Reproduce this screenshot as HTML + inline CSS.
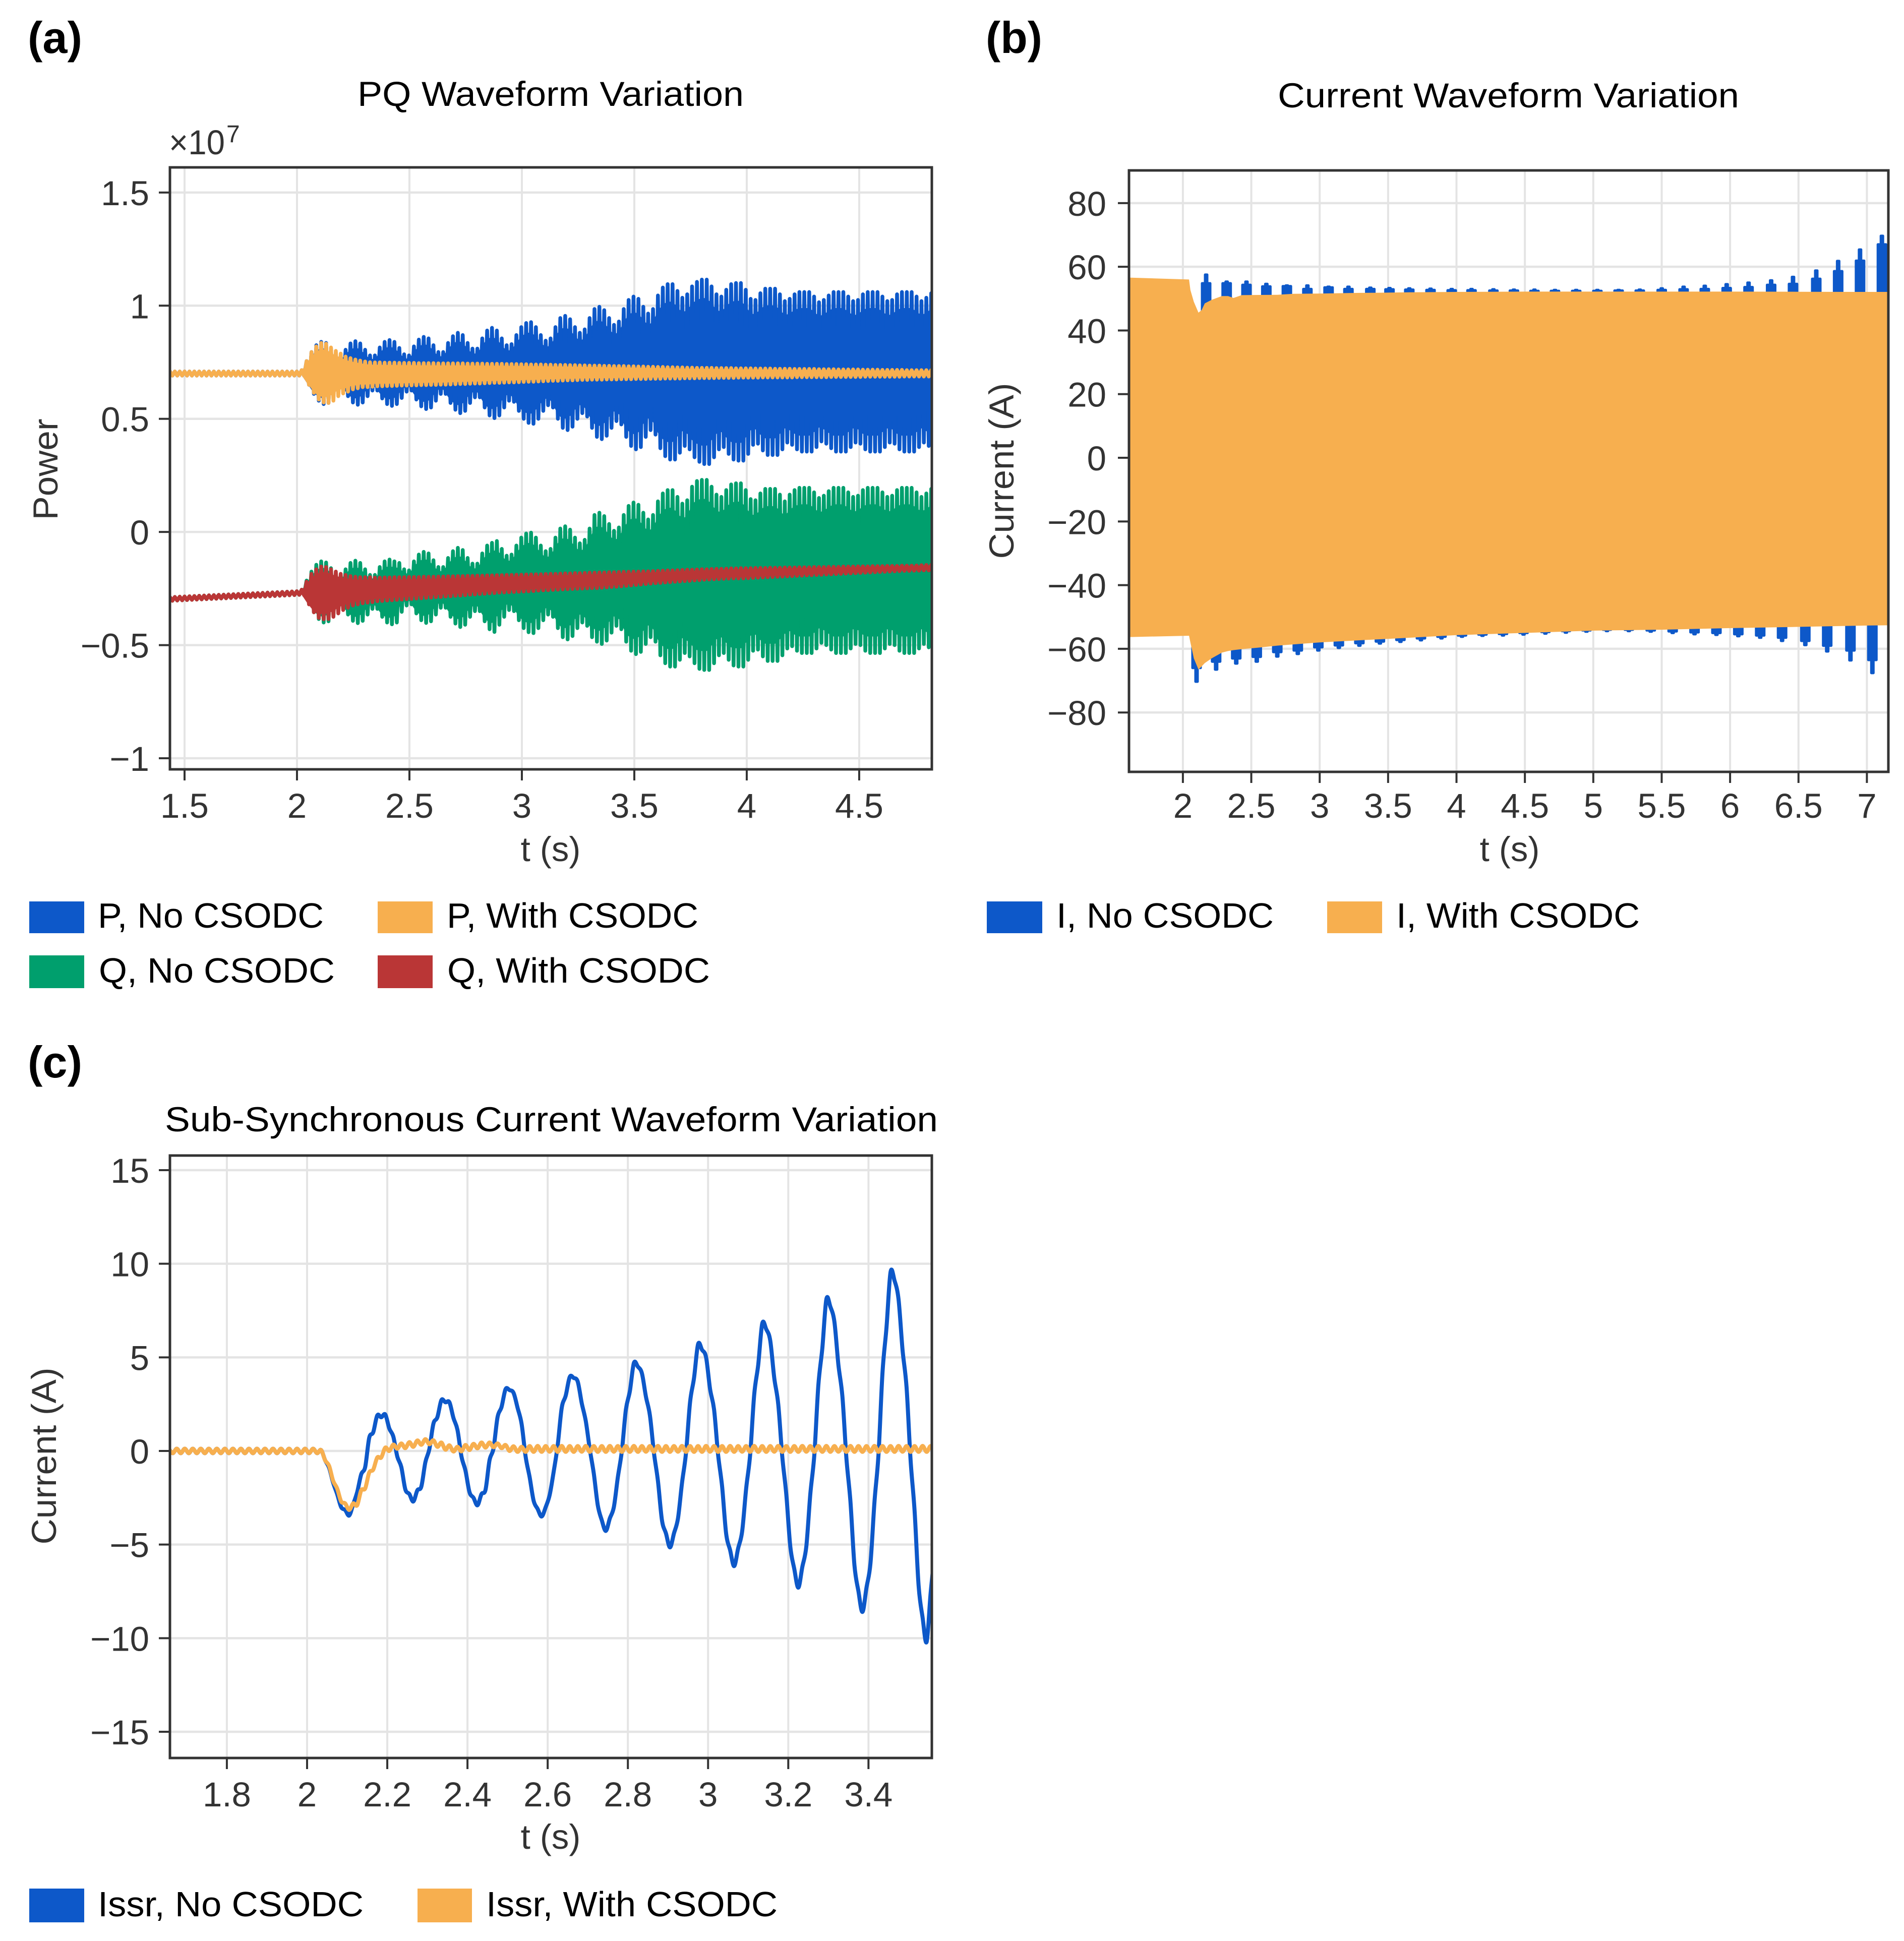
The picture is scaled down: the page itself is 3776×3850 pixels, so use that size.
<!DOCTYPE html>
<html lang="en">
<head>
<meta charset="utf-8">
<title>CSODC waveform comparison</title>
<style>
html,body{margin:0;padding:0;background:#fff;}
svg{display:block;}
text{font-family:"Liberation Sans",sans-serif;}
.tick{font-size:69px;fill:#333;}
.axis-title{font-size:69px;fill:#333;}
.title{font-size:69px;fill:#000;}
.legend{font-size:70px;fill:#000;}
.panel{font-size:88px;font-weight:bold;fill:#000;}
</style>
</head>
<body>
<svg id="fig" xmlns="http://www.w3.org/2000/svg" width="3776" height="3850" viewBox="0 0 3776 3850">
<rect x="0" y="0" width="3776" height="3850" fill="#fff"/>
<defs>
<clipPath id="clipA"><rect x="337" y="332" width="1511" height="1194"/></clipPath>
<clipPath id="clipB"><rect x="2239" y="338" width="1506" height="1193"/></clipPath>
<clipPath id="clipC"><rect x="337" y="2292" width="1511" height="1195"/></clipPath>
</defs>
<g id="gridA"></g>
<g id="gridB"></g>
<g id="gridC"></g>
<g id="plotA" clip-path="url(#clipA)"></g>
<g id="plotB" clip-path="url(#clipB)"></g>
<g id="plotC" clip-path="url(#clipC)"></g>
<g id="axesA"></g>
<g id="axesB"></g>
<g id="axesC"></g>

<text class="panel" x="55" y="105" textLength="108" lengthAdjust="spacingAndGlyphs">(a)</text>
<text class="panel" x="1955" y="105" textLength="112" lengthAdjust="spacingAndGlyphs">(b)</text>
<text class="panel" x="55" y="2137" textLength="108" lengthAdjust="spacingAndGlyphs">(c)</text>

<text class="title" x="709" y="210" textLength="766" lengthAdjust="spacingAndGlyphs">PQ Waveform Variation</text>
<text class="title" x="2534" y="213" textLength="915" lengthAdjust="spacingAndGlyphs">Current Waveform Variation</text>
<text class="title" x="327" y="2244" textLength="1533" lengthAdjust="spacingAndGlyphs">Sub-Synchronous Current Waveform Variation</text>

<text class="tick" x="335" y="306" textLength="111" lengthAdjust="spacingAndGlyphs">×10</text>
<text class="tick" x="449" y="282" style="font-size:48px">7</text>

<text class="axis-title" transform="translate(114 931) rotate(-90)" text-anchor="middle" textLength="201" lengthAdjust="spacingAndGlyphs">Power</text>
<text class="axis-title" transform="translate(2010 934) rotate(-90)" text-anchor="middle" textLength="349" lengthAdjust="spacingAndGlyphs">Current (A)</text>
<text class="axis-title" transform="translate(111 2888) rotate(-90)" text-anchor="middle" textLength="351" lengthAdjust="spacingAndGlyphs">Current (A)</text>

<text class="axis-title" x="1092" y="1708" text-anchor="middle">t (s)</text>
<text class="axis-title" x="2994" y="1708" text-anchor="middle">t (s)</text>
<text class="axis-title" x="1092" y="3667" text-anchor="middle">t (s)</text>

<g>
<rect x="58" y="1788" width="109" height="63" fill="#0d58c9"/>
<text class="legend" x="194" y="1840" textLength="448" lengthAdjust="spacingAndGlyphs">P, No CSODC</text>
<rect x="749" y="1788" width="109" height="63" fill="#f7af4f"/>
<text class="legend" x="886" y="1840" textLength="499" lengthAdjust="spacingAndGlyphs">P, With CSODC</text>
<rect x="58" y="1895" width="109" height="65" fill="#009f6d"/>
<text class="legend" x="196" y="1949" textLength="468" lengthAdjust="spacingAndGlyphs">Q, No CSODC</text>
<rect x="749" y="1895" width="109" height="65" fill="#ba3636"/>
<text class="legend" x="887" y="1949" textLength="521" lengthAdjust="spacingAndGlyphs">Q, With CSODC</text>
</g>
<g>
<rect x="1957" y="1788" width="110" height="63" fill="#0d58c9"/>
<text class="legend" x="2095" y="1840" textLength="431" lengthAdjust="spacingAndGlyphs">I, No CSODC</text>
<rect x="2632" y="1788" width="109" height="63" fill="#f7af4f"/>
<text class="legend" x="2769" y="1840" textLength="483" lengthAdjust="spacingAndGlyphs">I, With CSODC</text>
</g>
<g>
<rect x="58" y="3746" width="109" height="67" fill="#0d58c9"/>
<text class="legend" x="194" y="3801" textLength="527" lengthAdjust="spacingAndGlyphs">Issr, No CSODC</text>
<rect x="828" y="3746" width="108" height="67" fill="#f7af4f"/>
<text class="legend" x="964" y="3801" textLength="578" lengthAdjust="spacingAndGlyphs">Issr, With CSODC</text>
</g>
</svg>
<script>
/* ---------- Panel (a): tick labels ---------- */
const aXTicks = [1.5,2,2.5,3,3.5,4,4.5];
const aYTicks = [-1,-0.5,0,0.5,1,1.5];
/* cycle timing of the PQ oscillation, seconds */
const pqStart = 1.435;
const pqCycle = 0.0217;
/* peak values per cycle, units of 1e7; before the disturbance both cases coincide */
const pPreUpper = [.709,.709,.709,.709,.709,.709,.709,.709,.709,.709,.709,.709,.709,.709,.709,.709,.709,.709,.709,.709,.709,.709,.709,.709,.709,.709,.709];
const pPreLower = [.691,.691,.691,.691,.691,.691,.691,.691,.691,.691,.691,.691,.691,.691,.691,.691,.691,.691,.691,.691,.691,.691,.691,.691,.691,.691,.691];
const qPreUpper = [-.288,-.287,-.286,-.285,-.284,-.283,-.282,-.281,-.28,-.279,-.278,-.277,-.276,-.275,-.274,-.273,-.272,-.271,-.27,-.269,-.268,-.267,-.266,-.265,-.264,-.263,-.262];
const qPreLower = [-.304,-.303,-.302,-.301,-.3,-.299,-.298,-.297,-.296,-.295,-.294,-.293,-.292,-.291,-.29,-.289,-.288,-.287,-.286,-.285,-.284,-.283,-.282,-.281,-.28,-.279,-.278];
const pNoUpper = [.715,.755,.795,.825,.84,.835,.81,.785,.775,.805,.833,.843,.833,.805,.78,.78,.815,.84,.848,.84,.813,.785,.78,.82,.85,.862,.855,.825,.795,.795,.835,.865,.88,.87,.835,.81,.81,.855,.89,.902,.89,.855,.825,.83,.87,.905,.923,.927,.905,.87,.845,.855,.905,.945,.955,.94,.905,.88,.895,.945,.985,.995,.98,.945,.915,.93,.985,1.025,1.04,1.03,.995,.965,.985,1.045,1.08,1.095,1.095,1.065,1.035,1.05,1.085,1.105,1.115,1.115,1.085,1.05,1.04,1.07,1.095,1.1,1.1,1.07,1.03,1.025,1.055,1.075,1.075,1.075,1.05,1.02,1.03,1.05,1.06,1.06,1.06,1.04,1.015,1.025,1.045,1.06,1.06,1.06,1.04,1.02,1.025,1.05,1.06,1.06,1.06,1.04,1.02,1.025,1.05,1.06,1.06,1.06,1.04,1.02,1.035,1.055,1.06];
const pNoLower = [.69,.65,.61,.58,.565,.57,.595,.62,.63,.6,.572,.562,.572,.6,.625,.625,.59,.565,.557,.565,.592,.62,.625,.585,.555,.543,.55,.58,.61,.61,.57,.54,.525,.535,.57,.595,.595,.55,.515,.503,.515,.55,.58,.575,.535,.5,.482,.478,.5,.535,.56,.55,.5,.46,.45,.465,.5,.525,.51,.46,.42,.41,.425,.46,.49,.475,.42,.38,.365,.375,.42,.45,.43,.37,.335,.32,.32,.35,.38,.365,.33,.31,.3,.3,.33,.365,.375,.345,.32,.315,.315,.345,.385,.39,.36,.34,.34,.34,.365,.395,.385,.365,.355,.355,.355,.375,.4,.39,.37,.355,.355,.355,.375,.395,.39,.365,.355,.355,.355,.375,.395,.39,.365,.355,.355,.355,.375,.395,.38,.36,.355];
const qNoUpper = [-.255,-.215,-.175,-.145,-.13,-.135,-.16,-.185,-.195,-.165,-.137,-.127,-.137,-.165,-.19,-.19,-.155,-.13,-.122,-.13,-.137,-.165,-.17,-.13,-.1,-.088,-.095,-.125,-.155,-.155,-.115,-.085,-.07,-.08,-.115,-.14,-.14,-.095,-.06,-.048,-.04,-.075,-.105,-.1,-.06,-.025,-.007,-.003,-.025,-.06,-.085,-.075,-.025,.015,.025,.01,-.025,-.05,-.035,.015,.075,.085,.07,.035,.005,.02,.075,.115,.13,.12,.085,.055,.075,.135,.17,.185,.185,.155,.125,.14,.2,.225,.23,.23,.2,.165,.155,.185,.21,.215,.215,.185,.145,.14,.17,.19,.19,.19,.165,.135,.165,.185,.195,.195,.195,.175,.15,.16,.18,.195,.195,.195,.175,.155,.16,.185,.195,.195,.195,.175,.155,.16,.185,.195,.195,.195,.175,.155,.17,.19,.195];
const qNoLower = [-.275,-.315,-.355,-.385,-.4,-.395,-.37,-.345,-.335,-.365,-.393,-.403,-.393,-.365,-.34,-.34,-.375,-.4,-.408,-.4,-.353,-.325,-.32,-.36,-.39,-.402,-.395,-.365,-.335,-.335,-.375,-.405,-.42,-.41,-.375,-.35,-.35,-.395,-.43,-.442,-.41,-.375,-.345,-.35,-.39,-.425,-.443,-.447,-.425,-.39,-.365,-.375,-.425,-.465,-.475,-.46,-.425,-.4,-.415,-.465,-.485,-.495,-.48,-.445,-.415,-.43,-.485,-.525,-.54,-.53,-.495,-.465,-.485,-.545,-.58,-.595,-.595,-.565,-.535,-.55,-.58,-.605,-.61,-.61,-.58,-.545,-.535,-.565,-.59,-.595,-.595,-.565,-.525,-.52,-.55,-.57,-.57,-.57,-.545,-.515,-.505,-.525,-.535,-.535,-.535,-.515,-.49,-.5,-.52,-.535,-.535,-.535,-.515,-.495,-.5,-.525,-.535,-.535,-.535,-.515,-.495,-.5,-.525,-.535,-.535,-.535,-.515,-.495,-.51,-.53,-.535];
const pWithUpper = [.715,.755,.795,.82,.835,.832,.815,.8,.788,.775,.768,.762,.757,.753,.75,.749,.749,.748,.748,.748,.747,.747,.747,.747,.746,.746,.746,.746,.745,.745,.745,.745,.745,.745,.744,.744,.744,.744,.743,.743,.743,.743,.742,.742,.742,.741,.741,.74,.74,.74,.739,.739,.738,.738,.738,.737,.737,.736,.736,.735,.735,.735,.734,.734,.733,.733,.733,.732,.732,.731,.731,.73,.73,.729,.729,.728,.728,.727,.727,.726,.726,.725,.725,.725,.725,.724,.724,.724,.724,.723,.723,.723,.723,.722,.722,.722,.722,.721,.721,.721,.721,.72,.72,.72,.72,.72,.719,.719,.719,.719,.718,.718,.718,.718,.718,.717,.717,.717,.717,.716,.716,.716,.716,.716,.715,.715,.715,.715,.715,.715,.715];
const pWithLower = [.69,.65,.615,.585,.572,.57,.58,.6,.612,.62,.63,.635,.64,.64,.642,.644,.644,.645,.645,.646,.647,.647,.648,.648,.649,.649,.65,.65,.651,.651,.652,.653,.654,.654,.655,.656,.656,.657,.658,.659,.659,.66,.661,.661,.662,.663,.664,.664,.665,.666,.667,.668,.668,.669,.67,.67,.671,.672,.672,.673,.673,.673,.674,.674,.674,.675,.675,.675,.676,.676,.676,.677,.677,.677,.678,.678,.678,.678,.679,.679,.679,.68,.68,.68,.68,.681,.681,.681,.681,.682,.682,.682,.682,.682,.683,.683,.683,.683,.683,.683,.683,.684,.684,.684,.684,.684,.684,.684,.685,.685,.685,.685,.685,.685,.685,.686,.686,.686,.686,.686,.686,.686,.686,.687,.687,.687,.687,.687,.687,.687,.687];
const qWithUpper = [-.255,-.22,-.185,-.165,-.153,-.155,-.165,-.175,-.185,-.19,-.195,-.198,-.2,-.2,-.2,-.202,-.202,-.201,-.201,-.2,-.2,-.2,-.199,-.199,-.199,-.198,-.198,-.198,-.197,-.197,-.196,-.196,-.195,-.195,-.194,-.194,-.193,-.193,-.192,-.192,-.191,-.191,-.19,-.19,-.189,-.189,-.188,-.188,-.187,-.187,-.186,-.185,-.185,-.184,-.183,-.183,-.182,-.182,-.181,-.18,-.18,-.179,-.179,-.178,-.178,-.177,-.176,-.176,-.175,-.175,-.174,-.174,-.173,-.172,-.171,-.17,-.17,-.169,-.168,-.167,-.167,-.166,-.165,-.165,-.164,-.163,-.163,-.162,-.161,-.161,-.16,-.16,-.16,-.159,-.159,-.159,-.158,-.158,-.158,-.157,-.157,-.157,-.156,-.156,-.156,-.155,-.155,-.155,-.154,-.154,-.154,-.153,-.153,-.153,-.152,-.152,-.152,-.151,-.151,-.151,-.15,-.15,-.15,-.149,-.149,-.149,-.148,-.147,-.146,-.146,-.145];
const qWithLower = [-.28,-.32,-.355,-.38,-.386,-.385,-.375,-.36,-.345,-.335,-.325,-.32,-.315,-.312,-.31,-.306,-.305,-.303,-.302,-.3,-.299,-.297,-.296,-.294,-.293,-.291,-.29,-.288,-.287,-.285,-.284,-.282,-.281,-.279,-.277,-.276,-.274,-.273,-.271,-.27,-.268,-.267,-.266,-.265,-.264,-.263,-.262,-.261,-.259,-.258,-.257,-.256,-.255,-.254,-.253,-.252,-.251,-.25,-.249,-.248,-.248,-.246,-.245,-.243,-.242,-.24,-.238,-.236,-.234,-.232,-.23,-.228,-.226,-.225,-.223,-.222,-.22,-.219,-.217,-.216,-.214,-.213,-.211,-.21,-.209,-.208,-.207,-.206,-.205,-.205,-.205,-.204,-.203,-.202,-.201,-.2,-.199,-.198,-.197,-.196,-.195,-.194,-.193,-.192,-.191,-.19,-.189,-.188,-.187,-.186,-.185,-.184,-.183,-.182,-.181,-.18,-.179,-.178,-.177,-.176,-.175,-.174,-.173,-.172,-.172,-.171,-.171,-.17,-.17,-.169,-.168];

/* ---------- Panel (b) ---------- */
const bXTicks = [2,2.5,3,3.5,4,4.5,5,5.5,6,6.5,7];
const bYTicks = [-80,-60,-40,-20,0,20,40,60,80];
const iWithTimes = [1.606,2.045,2.055,2.08,2.114,2.137,2.16,2.21,2.285,2.33,2.37,2.43,2.56,2.69,2.81,3,3.3,3.44,3.67,4,4.5,5,5.5,6,6.5,7,7.157];
const iWithUpper = [56.6,56,52.7,49,45.6,46.4,48.5,49.6,50.8,50.8,50.2,51.1,51.15,51.2,51.5,51.6,51.8,51.85,52,52.1,52.2,52.2,52.2,52.2,52.15,52.1,52.1];
const iWithLower = [-56.3,-55.9,-58,-63,-66.5,-65.5,-64.5,-63,-61.2,-60.7,-60.4,-60.1,-59.6,-59,-58.6,-58,-57.3,-57,-56.5,-55.7,-55,-54.3,-54,-53.5,-53.1,-52.7,-52.6];
const iNoUpperTimes = [2.17,2.32,2.465,2.61,2.76,2.91,3.065,3.21,3.37,3.51,3.655,3.81,3.965,4.11,4.27,4.42,4.57,4.72,4.875,5.03,5.185,5.34,5.5,5.66,5.815,5.975,6.135,6.3,6.46,6.63,6.79,6.95,7.11];
const iNoUpperPeak = [57.5,55.3,55.3,54.6,54.1,54.1,53.7,53.7,53.4,53.3,53.2,53.1,53,53,52.9,52.8,52.8,52.7,52.7,52.7,52.7,52.8,53.2,53.7,54,54.5,55,55.7,56.8,58.8,61.8,65.4,69.7];
const iNoUpperShoulder = [54.8,54.8,54.3,53.8,53.9,53,53.5,53,53,52.9,52.8,52.7,52.6,52.6,52.5,52.5,52.4,52.4,52.4,52.4,52.5,52.5,52.7,52.9,53,53.3,53.6,54.3,54.6,56.2,58.6,61.9,67];
const iNoLowerTimes = [2.1,2.243,2.39,2.54,2.69,2.84,2.99,3.14,3.29,3.44,3.59,3.74,3.89,4.04,4.19,4.34,4.49,4.65,4.8,4.95,5.1,5.26,5.42,5.58,5.74,5.9,6.06,6.22,6.38,6.55,6.71,6.88,7.04];
const iNoLowerPeak = [-70.3,-66.5,-64.6,-64,-62.4,-61.6,-60.5,-59.7,-59,-58.3,-57.8,-57.3,-56.7,-56.2,-55.9,-55.8,-55.5,-55.2,-54.9,-54.6,-54.4,-54.4,-54.6,-55,-55.4,-55.6,-56,-56.5,-57.5,-58.8,-60.8,-63.6,-67.6];
const iNoLowerShoulder = [-66,-64,-63,-62.5,-61,-60.5,-59.5,-58.9,-58.2,-57.7,-57.2,-56.7,-56.2,-55.8,-55.5,-55.3,-55,-54.7,-54.4,-54.2,-54,-54,-54.2,-54.5,-54.8,-55,-55.4,-55.8,-56.5,-57.5,-59,-60.5,-63.5];

/* ---------- Panel (c) ---------- */
const cXTicks = [1.8,2,2.2,2.4,2.6,2.8,3,3.2,3.4];
const cYTicks = [-15,-10,-5,0,5,10,15];
const issrStart = 1.655;
const issrStep = 0.01;
const issrPre = [.12,-.12,.12,-.12,.12,-.12,.12,-.12,.12,-.12,.12,-.12,.12,-.12,.12,-.12,.12,-.12,.12,-.12,.12,-.12,.12,-.12,.12,-.12,.12,-.12,.12,-.12,.12,-.12,.12,-.12,.12,-.12,.12,-.12];
const issrNo = [.05,-.5,-.9,-1.7,-2.3,-3,-3.15,-3.45,-2.85,-2.2,-1.25,-.85,.7,1,1.9,1.8,1.95,1.2,.77,-.3,-.86,-2.05,-2.3,-2.7,-2.1,-1.9,-.6,.1,1.45,1.8,2.72,2.6,2.6,1.76,1.13,-.3,-1.05,-2.2,-2.5,-2.9,-2.3,-2.07,-.5,.14,1.8,2.35,3.3,3.25,3.1,2.3,1.45,-.3,-1.4,-2.66,-3.1,-3.5,-3,-2.35,-1.1,.3,2.3,2.95,3.95,3.9,3.7,2.55,1.6,.1,-1.2,-2.9,-3.7,-4.27,-3.6,-3,-1.4,0,2.2,3.2,4.7,4.5,4.15,2.9,1.9,-.1,-1.6,-3.7,-4.4,-5.15,-4.4,-3.6,-1.7,-.1,2.6,3.9,5.7,5.4,5,3.3,2.2,-.2,-1.9,-4.4,-5.3,-6.15,-5.2,-4.3,-2,-.2,3,4.6,6.8,6.5,5.9,3.9,2.5,-.3,-2.3,-5.1,-6.3,-7.3,-6.2,-5.1,-2.3,-.2,3.5,5.5,8.1,7.7,6.9,4.6,2.9,-.4,-2.7,-6.1,-7.5,-8.6,-7.3,-6,-2.7,-.2,4.2,6.6,9.55,9.1,8.1,5.4,3.4,-.5,-3.2,-7.2,-8.9,-10.2,-7.6,-5.5];
const issrWith = [.05,-.5,-.8,-1.6,-2,-2.7,-2.8,-3.15,-2.8,-2.9,-2.1,-2,-1.15,-1,-.35,-.35,.18,0,.34,.12,.4,.15,.47,.22,.56,.33,.63,.36,.57,.22,.45,.07,.3,-.03,.22,-.02,.32,.05,.38,.14,.45,.18,.45,.2,.4,.15,.32,0,.25,-.05,.22,-.05,.26,-.05,.27,-.05,.26,-.04,.26,-.05,.27,-.05,.26,-.05,.26,-.04,.27,-.05,.26,-.05,.26,-.05,.27,-.04,.26,-.05,.26,-.05,.27,-.05,.26,-.04,.26,-.05,.27,-.05,.26,-.05,.26,-.04,.27,-.05,.26,-.05,.26,-.05,.27,-.04,.26,-.05,.26,-.05,.27,-.05,.26,-.04,.26,-.05,.27,-.05,.26,-.05,.26,-.04,.27,-.05,.26,-.05,.26,-.05,.27,-.04,.26,-.05,.26,-.05,.27,-.05,.26,-.04,.26,-.05,.27,-.05,.26,-.05,.26,-.04,.27,-.05,.26,-.05,.26,-.05,.27,-.04,.26,-.05,.26,-.05,.27,-.05,.26,-.04,.26,-.05];

/* ---------- Colours ---------- */
const BLUE = '#0d58c9', ORANGE = '#f7af4f', GREEN = '#009f6d', RED = '#ba3636';
const GRID = '#e4e4e4', AXIS = '#333333';
const NS = 'http://www.w3.org/2000/svg';

function scale(d0, d1, r0, r1) {
  return function (v) { return r0 + (v - d0) * (r1 - r0) / (d1 - d0); };
}
function el(tag, attrs, parent) {
  const n = document.createElementNS(NS, tag);
  for (const k in attrs) n.setAttribute(k, attrs[k]);
  parent.appendChild(n);
  return n;
}
function fmt(v) {
  return String(v).replace('-', '\u2212');
}

/* axis functions */
const xA = scale(1.435, 4.823, 337, 1848);
const yA = scale(-1.049, 1.611, 1526, 332);
const xB = scale(1.606, 7.157, 2239, 3745);
const yB = scale(-98.65, 90.27, 1531, 338);
const xC = scale(1.658, 3.558, 337, 1848);
const yC = scale(-16.4, 15.78, 3487, 2292);

function drawAxes(prefix, gridId, axesId, xs, ys, xTicks, yTicks, box, labelBase, labelRight) {
  const grid = document.getElementById(gridId);
  const axes = document.getElementById(axesId);
  xTicks.forEach(function (t) {
    const g = el('line', {x1: xs(t), x2: xs(t), y1: box.top, y2: box.bottom, stroke: GRID, 'stroke-width': 4}, grid);
    
    
    const m = el('line', {x1: xs(t), x2: xs(t), y1: box.bottom, y2: box.bottom + 22, stroke: AXIS, 'stroke-width': 4}, axes);
    
    
    const l = el('text', {x: xs(t), y: labelBase, 'text-anchor': 'middle', class: 'tick'}, axes);
    
    
    l.textContent = fmt(t);
  });
  yTicks.forEach(function (v) {
    const g = el('line', {x1: box.left, x2: box.right, y1: ys(v), y2: ys(v), stroke: GRID, 'stroke-width': 4.5}, grid);
    
    
    const m = el('line', {x1: box.left - 22, x2: box.left, y1: ys(v), y2: ys(v), stroke: AXIS, 'stroke-width': 4}, axes);
    
    
    const l = el('text', {x: labelRight, y: ys(v) + 25, 'text-anchor': 'end', class: 'tick'}, axes);
    
    
    l.textContent = fmt(v);
  });
  const f = el('rect', {x: box.left, y: box.top, width: box.right - box.left, height: box.bottom - box.top, fill: 'none', stroke: AXIS, 'stroke-width': 5}, axes);
  
  
}

drawAxes('pq', 'gridA', 'axesA', xA, yA, aXTicks, aYTicks, {left: 337, right: 1848, top: 332, bottom: 1526}, 1622, 296);
drawAxes('current', 'gridB', 'axesB', xB, yB, bXTicks, bYTicks, {left: 2239, right: 3745, top: 338, bottom: 1531}, 1622, 2194);
drawAxes('issr', 'gridC', 'axesC', xC, yC, cXTicks, cYTicks, {left: 337, right: 1848, top: 2292, bottom: 3487}, 3583, 296);

/* Panel (a): zig-zag through the per-cycle peaks, with the sinusoid's solid body beneath */
function zigzag(upper, lower) {
  let d = '';
  for (let k = 0; k < upper.length; k++) {
    const tu = pqStart + k * pqCycle;
    const tl = tu + pqCycle / 2;
    d += (k ? 'L' : 'M') + xA(tu).toFixed(1) + ' ' + yA(upper[k]).toFixed(1);
    d += 'L' + xA(tl).toFixed(1) + ' ' + yA(lower[k]).toFixed(1);
  }
  return d;
}
function bodyShape(upper, lower) {
  let top = '';
  let bottom = '';
  for (let k = 0; k < upper.length; k++) {
    const t = pqStart + k * pqCycle;
    const mid = (upper[k] + lower[k]) / 2;
    const half = (upper[k] - lower[k]) / 2 * 0.8;
    top += (k ? 'L' : 'M') + xA(t).toFixed(1) + ' ' + yA(mid + half).toFixed(1);
    bottom = 'L' + xA(t).toFixed(1) + ' ' + yA(mid - half).toFixed(1) + bottom;
  }
  return top + bottom + 'Z';
}
const plotA = document.getElementById('plotA');
function waveA(upper, lower, color) {
  const g = el('g', {}, plotA);
  el('path', {d: bodyShape(upper, lower), fill: color}, g);
  el('path', {d: zigzag(upper, lower), fill: 'none', stroke: color, 'stroke-width': 7.5, 'stroke-linejoin': 'round', 'stroke-linecap': 'round'}, g);
  return g;
}
const pNoPath = waveA(pPreUpper.concat(pNoUpper), pPreLower.concat(pNoLower), BLUE);


const qNoPath = waveA(qPreUpper.concat(qNoUpper), qPreLower.concat(qNoLower), GREEN);


const pWithPath = waveA(pPreUpper.concat(pWithUpper), pPreLower.concat(pWithLower), ORANGE);


const qWithPath = waveA(qPreUpper.concat(qWithUpper), qPreLower.concat(qWithLower), RED);



/* Panel (b): bursts of the undamped case beneath the damped envelope */
const plotB = document.getElementById('plotB');
function burst(t, peak, shoulder, base) {
  const x = xB(t);
  const p = [[x - 8, yB(base)], [x - 8, yB(shoulder)], [x - 2, yB(shoulder)], [x - 2, yB(peak)], [x + 2, yB(peak)], [x + 2, yB(shoulder)], [x + 8, yB(shoulder)], [x + 8, yB(base)]];
  const b = el('path', {d: 'M' + p.map(function (q) { return q[0].toFixed(1) + ' ' + q[1].toFixed(1); }).join('L') + 'Z', fill: BLUE, stroke: BLUE, 'stroke-width': 5, 'stroke-linejoin': 'round'}, plotB);
  return b;
}
iNoUpperTimes.forEach(function (t, i) {
  const b = burst(t, iNoUpperPeak[i], iNoUpperShoulder[i], 40);
  
  
});
iNoLowerTimes.forEach(function (t, i) {
  const b = burst(t, iNoLowerPeak[i], iNoLowerShoulder[i], -40);
  
  
});
let iWithD = '';
iWithTimes.forEach(function (t, i) {
  iWithD += (i ? 'L' : 'M') + xB(t).toFixed(1) + ' ' + yB(iWithUpper[i]).toFixed(1);
});
for (let i = iWithTimes.length - 1; i >= 0; i--) {
  iWithD += 'L' + xB(iWithTimes[i]).toFixed(1) + ' ' + yB(iWithLower[i]).toFixed(1);
}
const iWithArea = el('path', {d: iWithD + 'Z', fill: ORANGE}, plotB);



/* Panel (c): sampled lines, smoothed between samples */
const plotC = document.getElementById('plotC');
function lineC(values, color) {
  const pts = values.map(function (v, i) {
    return [xC(issrStart + i * issrStep), yC(v)];
  });
  let d = 'M' + pts[0][0].toFixed(1) + ' ' + pts[0][1].toFixed(1);
  for (let i = 0; i < pts.length - 1; i++) {
    const a = pts[Math.max(i - 1, 0)], b = pts[i], c = pts[i + 1], e = pts[Math.min(i + 2, pts.length - 1)];
    d += 'C' + (b[0] + (c[0] - a[0]) / 6).toFixed(1) + ' ' + (b[1] + (c[1] - a[1]) / 6).toFixed(1) + ' ' +
         (c[0] - (e[0] - b[0]) / 6).toFixed(1) + ' ' + (c[1] - (e[1] - b[1]) / 6).toFixed(1) + ' ' +
         c[0].toFixed(1) + ' ' + c[1].toFixed(1);
  }
  return el('path', {d: d, fill: 'none', stroke: color, 'stroke-width': 8, 'stroke-linejoin': 'round', 'stroke-linecap': 'round'}, plotC);
}
const issrNoLine = lineC(issrPre.concat(issrNo), BLUE);


const issrWithLine = lineC(issrPre.concat(issrWith), ORANGE);


</script>
</body>
</html>
